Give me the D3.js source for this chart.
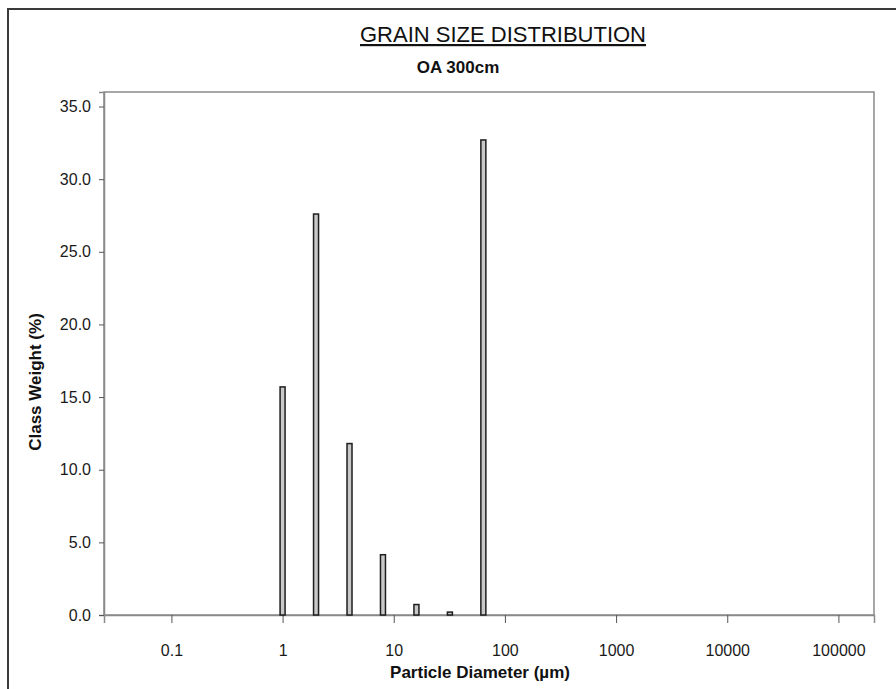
<!DOCTYPE html>
<html>
<head>
<meta charset="utf-8">
<script src="https://cdn.jsdelivr.net/npm/d3@7"></script>
<style>
body{margin:0;background:#fff;}
svg{font-family:"Liberation Sans",Arial,sans-serif;}
</style>
</head>
<body>
<div id="chart"></div>
<script>
var w=896,h=689;

// grain size classes (µm) and class weight (%)
var sizes=[1,2,4,8,16,32,64];
var weights=[15.7,27.6,11.8,4.15,0.72,0.2,32.7];
var xTicks=[0.1,1,10,100,1000,10000,100000];
var yTicks=[0,5,10,15,20,25,30,35];

var pL=104,pR=874,pT=92,pB=615;

var svg=d3.select("#chart")
.append("svg")
.attr("width",w)
.attr("height",h);

// outer frame
svg.append("rect")
.attr("x",8).attr("y",9)
.attr("width",960).attr("height",760)
.style("fill","none")
.style("stroke","#3a3a3a")
.style("stroke-width",2);

var x=d3.scaleLog().domain([0.02475,209000]).range([pL,pR]);
var y=d3.scaleLinear().domain([0,36]).range([pB,pT]);

// plot frame
svg.append("rect")
.attr("x",pL).attr("y",pT)
.attr("width",pR-pL).attr("height",pB-pT)
.style("fill","none")
.style("stroke","#8a8a8a")
.style("stroke-width",1.5);

var xAxis=svg.append("g")
.attr("transform","translate(0,"+pB+")")
.call(d3.axisBottom(x).tickValues(xTicks).tickSize(8).tickPadding(22)
  .tickFormat(function(d){return d3.format("")(d);}));
xAxis.select(".domain").style("stroke","#8a8a8a").style("stroke-width",1.5);
xAxis.selectAll("line").style("stroke","#555");
xAxis.selectAll("text").style("font-size","16px").style("fill","#1a1a1a");

var yAxis=svg.append("g")
.attr("transform","translate("+pL+",0)")
.call(d3.axisLeft(y).tickValues(yTicks).tickSize(5).tickPadding(8).tickFormat(d3.format(".1f")));
yAxis.select(".domain").style("stroke","#8a8a8a").style("stroke-width",1.5);
yAxis.selectAll("line").style("stroke","#555");
yAxis.selectAll("text").style("font-size","16px").style("fill","#1a1a1a");

// bars
var bw=5;
svg.selectAll("rect.bar")
.data(sizes)
.enter()
.append("rect")
.attr("class","bar")
.attr("x",function(d){return x(d)-bw/2;})
.attr("y",function(d,i){return y(weights[i]);})
.attr("width",bw)
.attr("height",function(d,i){return pB-y(weights[i]);})
.style("fill","#c8c8c8")
.style("stroke","#1e1e1e")
.style("stroke-width",1.5);

// titles
svg.append("text")
.text("GRAIN SIZE DISTRIBUTION")
.attr("x",503).attr("y",42)
.attr("text-anchor","middle")
.style("font-size","22px")
.style("text-decoration","underline")
.style("fill","#111");

svg.append("text")
.text("OA 300cm")
.attr("x",458).attr("y",73)
.attr("text-anchor","middle")
.style("font-size","17px")
.style("font-weight","bold")
.style("fill","#111");

svg.append("text")
.text("Particle Diameter (µm)")
.attr("x",480).attr("y",678)
.attr("text-anchor","middle")
.style("font-size","17px")
.style("font-weight","bold")
.style("fill","#111");

svg.append("text")
.text("Class Weight (%)")
.attr("transform","translate(41,382) rotate(-90)")
.attr("text-anchor","middle")
.style("font-size","17px")
.style("font-weight","bold")
.style("fill","#111");
</script>
</body>
</html>
